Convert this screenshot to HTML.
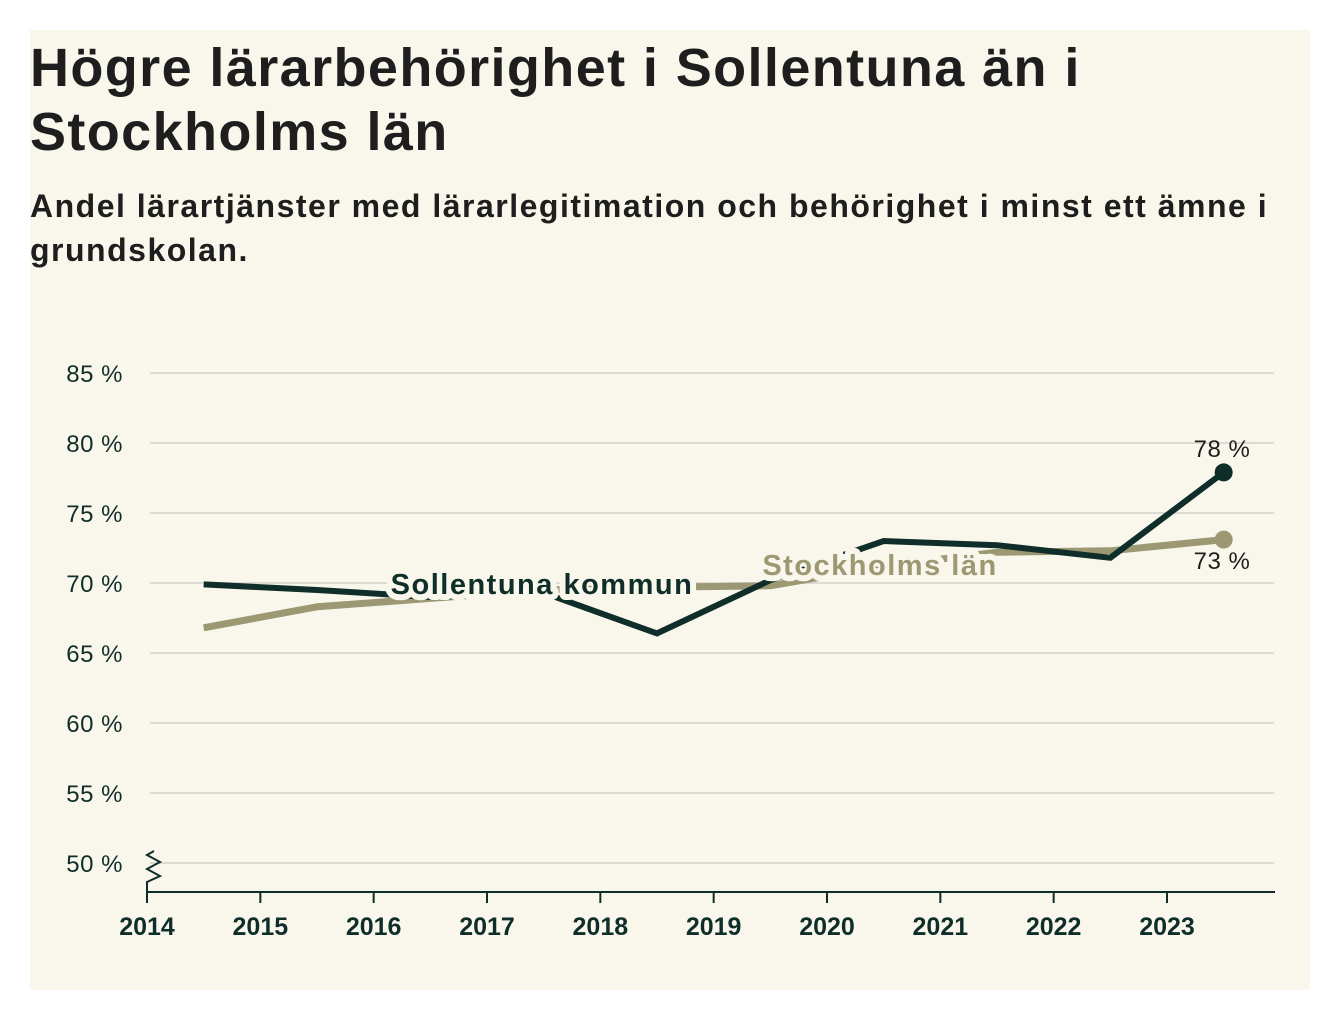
<!DOCTYPE html>
<html><head><meta charset="utf-8">
<style>
body{margin:0;background:#fff;width:1340px;height:1020px;overflow:hidden;font-family:"Liberation Sans","DejaVu Sans",sans-serif}
#panel{position:absolute;left:30px;top:30px;width:1280px;height:960px;background:#f9f7eb}
h1{position:absolute;left:0;top:6px;margin:0;font-size:54px;line-height:64px;font-weight:700;color:#1e1e1e;letter-spacing:1.4px;width:1260px}
h2{position:absolute;left:0;top:154px;margin:0;font-size:32px;line-height:44px;font-weight:700;color:#1e1e1e;letter-spacing:1.5px;width:1275px}
svg{position:absolute;left:0;top:0}
</style></head><body>
<div id="panel">
<h1>Högre lärarbehörighet i Sollentuna än i Stockholms län</h1>
<h2>Andel lärartjänster med lärarlegitimation och behörighet i minst ett ämne i grundskolan.</h2>
</div>
<svg id="chart" width="1340" height="1020"></svg>
<script>
const years=[2014.5,2015.5,2016.5,2017.5,2018.5,2019.5,2020.5,2021.5,2022.5,2023.5];
const sollentuna=[69.9,69.5,69.0,69.3,66.4,70.2,73.0,72.7,71.8,77.9];
const stockholm=[66.8,68.3,68.9,69.5,69.7,69.8,71.2,72.2,72.3,73.1];
const yTicks=[50,55,60,65,70,75,80,85];
const xTicks=[2014,2015,2016,2017,2018,2019,2020,2021,2022,2023];
const ns="http://www.w3.org/2000/svg",svg=document.getElementById('chart');
const X=v=>147+(v-2014)*(1167-147)/9;
const Y=v=>863-(v-50)*14;
function mk(t,a){const e=document.createElementNS(ns,t);for(const k in a)e.setAttribute(k,a[k]);svg.appendChild(e);return e;}
yTicks.forEach(v=>{
 const g=mk('line',{x1:150,x2:1274,y1:Y(v),y2:Y(v),stroke:'#dcdad3','stroke-width':2});
 
 
 const t=mk('text',{x:123,y:Y(v)+9,'text-anchor':'end','font-size':24,fill:'#0f2e2a','letter-spacing':0.5});
 t.textContent=v+' %';
 
 
});
const ax=mk('line',{x1:147,x2:1275,y1:892,y2:892,stroke:'#0f2e2a','stroke-width':2});


const br=mk('polyline',{points:'154,851 147,855 160,862 147,869 160,876 147,882 147,892',fill:'none',stroke:'#0f2e2a','stroke-width':2});


xTicks.forEach(v=>{
 const l=mk('line',{x1:X(v),x2:X(v),y1:892,y2:903,stroke:'#0f2e2a','stroke-width':2});
 
 
 const t=mk('text',{x:X(v),y:935,'text-anchor':'middle','font-size':25,'font-weight':700,fill:'#0f2e2a'});
 t.textContent=v;
 
 
});
function pts(a){return years.map((y,i)=>X(y)+','+Y(a[i])).join(' ');}
const s2=mk('polyline',{points:pts(stockholm),fill:'none',stroke:'#9b9873','stroke-width':7,'stroke-linejoin':'round'});


const s1=mk('polyline',{points:pts(sollentuna),fill:'none',stroke:'#0f2e2a','stroke-width':6,'stroke-linejoin':'miter'});


const n=years.length-1;
const d1=mk('circle',{cx:X(years[n]),cy:Y(sollentuna[n]),r:9,fill:'#0f2e2a'});


const d2=mk('circle',{cx:X(years[n]),cy:Y(stockholm[n]),r:9,fill:'#9b9873'});


function lab(txt,x,y,fill,size,name,halo,w,ls){
 const t=mk('text',{x:x,y:y,'text-anchor':'middle','font-size':size,fill:fill,'font-weight':w,'letter-spacing':ls});
 if(halo){t.setAttribute('stroke','#f9f7eb');t.setAttribute('stroke-width',12);t.setAttribute('paint-order','stroke');t.setAttribute('stroke-linejoin','round');}
 t.textContent=txt;
 
 
}
lab('Sollentuna kommun',542,594,'#0f2e2a',29,'sollentuna-label',true,700,1.5);
lab('Stockholms län',880,575,'#9b9873',29,'stockholm-label',true,700,1.5);
lab(Math.round(sollentuna[n])+' %',1222,457,'#1e1e1e',24,'sollentuna-value',false,500,0.5);
lab(Math.round(stockholm[n])+' %',1222,569,'#1e1e1e',24,'stockholm-value',false,500,0.5);
</script>
</body></html>
